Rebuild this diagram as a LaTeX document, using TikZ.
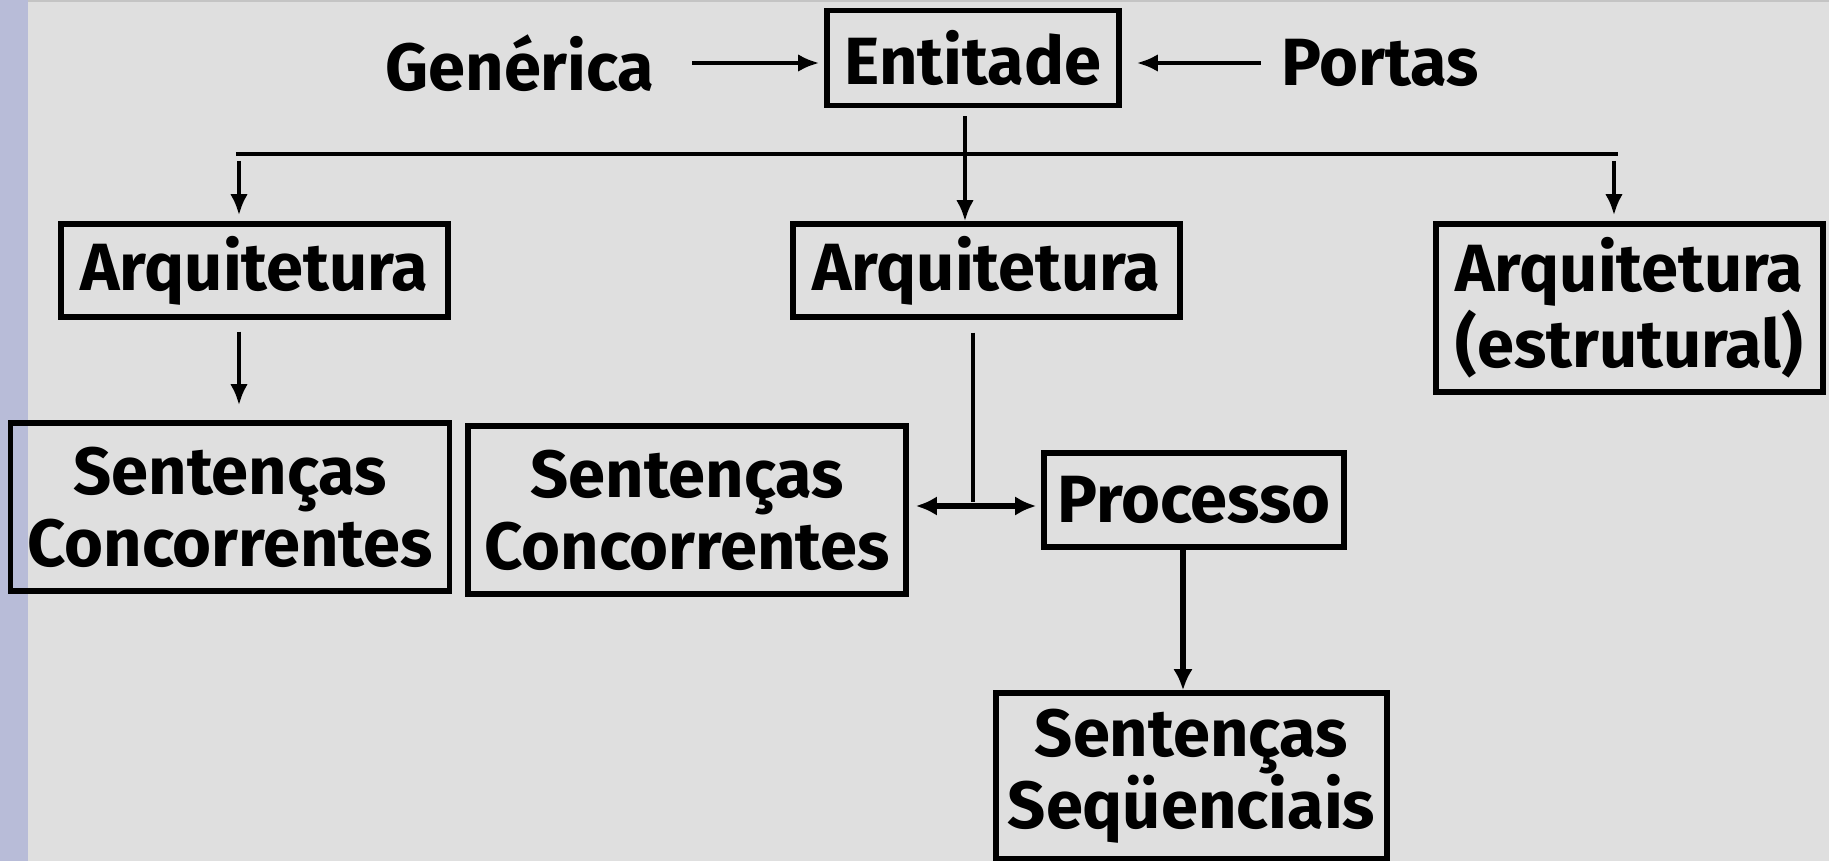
\documentclass[tikz,border=0pt]{standalone}
\usepackage{fontspec}
\setmainfont{Fira Sans}
\usetikzlibrary{arrows.meta}

\definecolor{fundo}{RGB}{223,223,223}
\definecolor{faixa}{RGB}{184,188,216}
\definecolor{borda}{RGB}{196,196,196}

\tikzset{
    caixa/.style={draw, line width=1.5pt, align=center, inner sep=0pt,
        font=\fontsize{19}{20.5}\selectfont\bfseries},
    rotulo/.style={inner sep=0pt, font=\fontsize{19}{20.5}\selectfont\bfseries},
    linha/.style={line width=1.35pt},
    seta/.style={-{Latex[length=6pt,width=5pt]}, line width=1.35pt},
    setagrossa/.style={-{Latex[length=6pt,width=5.5pt]}, line width=1.6pt},
    setadupla/.style={{Latex[length=6pt,width=5.5pt]}-{Latex[length=6pt,width=5.5pt]}, line width=1.6pt}
}

\begin{document}
\begin{tikzpicture}[x=0.01cm, y=-0.01cm]

        \useasboundingbox (0,0) rectangle (1829,861);
        \fill[fundo] (0,0) rectangle (1829,861);
        \fill[faixa] (0,0) rectangle (28,861);
        \draw[borda, line width=0.6pt] (28,1) -- (1829,1);

        \node[rotulo] (gen) at (520,63) {Genérica};
        \node[caixa, minimum width=2.92cm, minimum height=0.95cm] (ent) at (973,58) {Entitade};
        \node[rotulo] (por) at (1380,63) {Portas};

        \node[caixa, minimum width=3.87cm, minimum height=0.93cm] (arqA) at (254.5,270.5) {Arquitetura};
        \node[caixa, minimum width=3.87cm, minimum height=0.93cm] (arqB) at (986.5,270.5) {Arquitetura};
        \node[caixa, minimum width=3.87cm, minimum height=1.68cm] (arqC) at (1629.5,308) {Arquitetura\\(estrutural)};

        \node[caixa, minimum width=4.39cm, minimum height=1.68cm] (scA) at (230,507) {Sentenças\\Concorrentes};
        \node[caixa, minimum width=4.38cm, minimum height=1.68cm] (scB) at (687,510) {Sentenças\\Concorrentes};
        \node[caixa, minimum width=3.00cm, minimum height=0.94cm] (proc) at (1194,500) {Processo};
        \node[caixa, minimum width=3.91cm, minimum height=1.66cm] (ss) at (1191.5,776) {Sentenças\\Seqüenciais};

        % #######################################

        \coordinate (bl) at (239,154);
        \coordinate (br) at (1614,154);
        \coordinate (jun) at (973,506);

        \draw[seta, shorten <=0.37cm, shorten >=0.05cm] (gen.east) -- (gen.east -| ent.west);
        \draw[seta, shorten <=0.20cm, shorten >=0.15cm] (por.west) -- (por.west -| ent.east);

        \draw[seta, shorten >=0.08cm] ([shift={(-8,8)}]ent.south) -- ([shift={(-8,8)}]ent.south |- arqB.north);
        \draw[linha] ([xshift=-0.03cm]bl) -- ([xshift=0.04cm]br);
        \draw[seta, shorten >=0.06cm] ([yshift=-0.07cm]bl) -- (bl |- arqA.north);
        \draw[seta, shorten >=0.06cm] ([yshift=-0.07cm]br) -- (br |- arqC.north);

        \draw[seta, shorten <=0.12cm, shorten >=0.15cm] (bl |- arqA.south) -- (bl |- scA.north);

        \draw[linha, shorten <=0.13cm] (jun |- arqB.south) -- ([yshift=0.04cm]jun);
        \draw[setadupla, shorten <=0.07cm, shorten >=0.05cm] (scB.east |- jun) -- (proc.west |- jun);

        \draw[setagrossa] ([xshift=-0.11cm]proc.south) -- ([xshift=-0.11cm]proc.south |- ss.north);

    \end{tikzpicture}
\end{document}
